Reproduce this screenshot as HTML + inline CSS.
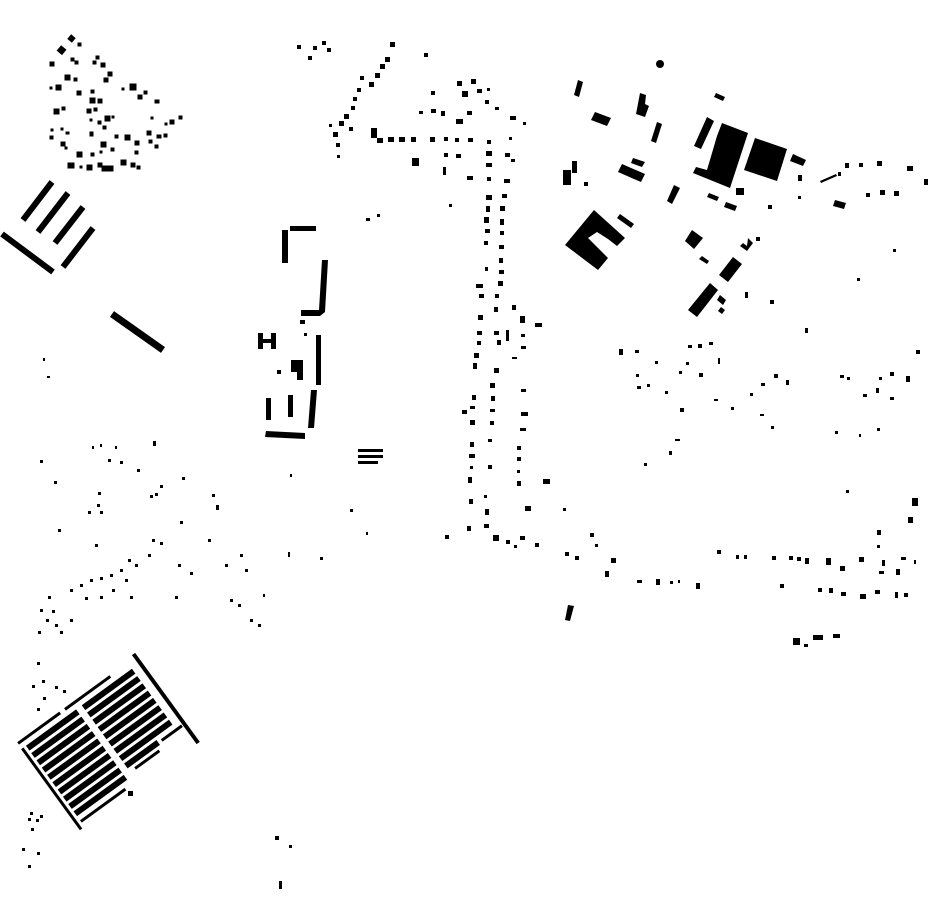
<!DOCTYPE html>
<html><head><meta charset="utf-8"><style>html,body{margin:0;padding:0;background:#fff}svg{display:block}</style></head>
<body>
<svg width="930" height="924" viewBox="0 0 930 924" xmlns="http://www.w3.org/2000/svg">
<g fill="#000" stroke="none">
<g transform="translate(-2.5,-2.5)">
<rect x="71" y="38" width="6" height="6" transform="rotate(40 74 41)"/><rect x="61" y="49" width="7" height="7" transform="rotate(40 64 52)"/><rect x="80" y="45" width="4" height="4"/><rect x="52" y="64" width="5" height="5"/><rect x="73" y="60" width="4" height="4"/><rect x="77" y="63" width="4" height="4"/><rect x="98" y="58" width="4" height="4"/><rect x="95" y="63" width="4" height="4"/><rect x="103" y="65" width="5" height="5"/><rect x="67" y="77" width="6" height="6"/><rect x="76" y="80" width="4" height="4"/><rect x="110" y="74" width="5" height="5"/><rect x="106" y="80" width="5" height="5"/><rect x="58" y="87" width="6" height="6"/><rect x="52" y="89" width="3" height="3"/><rect x="79" y="93" width="5" height="5"/><rect x="93" y="92" width="4" height="4"/><rect x="132" y="86" width="7" height="7"/><rect x="124" y="90" width="3" height="3"/><rect x="140" y="97" width="5" height="5"/><rect x="146" y="93" width="4" height="4"/><rect x="157" y="102" width="5" height="4"/><rect x="92" y="100" width="6" height="6"/><rect x="100" y="101" width="5" height="5"/><rect x="56" y="111" width="6" height="6"/><rect x="64" y="109" width="4" height="4"/><rect x="89" y="111" width="5" height="5"/><rect x="96" y="110" width="4" height="4"/><rect x="107" y="118" width="6" height="6"/><rect x="114" y="118" width="3" height="3"/><rect x="92" y="121" width="3" height="3"/><rect x="100" y="123" width="4" height="4"/><rect x="105" y="128" width="4" height="4"/><rect x="153" y="119" width="3" height="3"/><rect x="172" y="122" width="5" height="5"/><rect x="181" y="118" width="4" height="4"/><rect x="167" y="125" width="3" height="3"/><rect x="53" y="131" width="3" height="3"/><rect x="63" y="130" width="3" height="3"/><rect x="68" y="134" width="4" height="3"/><rect x="92" y="134" width="4" height="5"/><rect x="52" y="138" width="4" height="4"/><rect x="117" y="137" width="4" height="4"/><rect x="127" y="137" width="6" height="6"/><rect x="149" y="133" width="5" height="5"/><rect x="159" y="137" width="5" height="4"/><rect x="166" y="136" width="4" height="4"/><rect x="63" y="144" width="5" height="5"/><rect x="103" y="144" width="6" height="6"/><rect x="137" y="143" width="5" height="5"/><rect x="151" y="142" width="4" height="4"/><rect x="157" y="147" width="4" height="4"/><rect x="67" y="149" width="3" height="3"/><rect x="113" y="150" width="4" height="4"/><rect x="79" y="154" width="6" height="6"/><rect x="93" y="155" width="4" height="4"/><rect x="102" y="153" width="3" height="3"/><rect x="137" y="153" width="4" height="4"/><rect x="70" y="165" width="7" height="6"/><rect x="82" y="168" width="3" height="3"/><rect x="89" y="167" width="6" height="6"/><rect x="100" y="165" width="5" height="5"/><rect x="104" y="168" width="12" height="6"/><rect x="123" y="162" width="6" height="6"/><rect x="133" y="165" width="5" height="5"/><rect x="139" y="168" width="4" height="4"/>
</g>
</g>
<g stroke="#000" stroke-linecap="butt" fill="none">
<line x1="52" y1="182" x2="23" y2="220" stroke-width="6"/>
<line x1="68" y1="193" x2="38" y2="232" stroke-width="6"/>
<line x1="83" y1="207" x2="55" y2="243" stroke-width="6"/>
<line x1="93" y1="228" x2="63" y2="267" stroke-width="6"/>
<line x1="2" y1="234" x2="53" y2="272" stroke-width="6"/>
<line x1="112" y1="314" x2="163" y2="350" stroke-width="7"/>
</g>
<g fill="#000">
<rect x="290" y="226" width="26" height="5"/>
<rect x="282" y="230" width="6" height="33"/>
<polygon points="322,260 328,260 325,312 320,316 301,316 301,310 319,310"/>
<rect x="316" y="335" width="5" height="50"/>
<rect x="300" y="320" width="5" height="4"/>
<rect x="258" y="333" width="5" height="16"/><rect x="271" y="333" width="5" height="16"/><rect x="258" y="339" width="18" height="4"/>
<polygon points="291,360 303,360 303,380 297,380 297,372 291,372"/>
<rect x="277" y="370" width="4" height="4"/><rect x="304" y="333" width="3" height="3"/>
<rect x="266" y="398" width="5" height="22"/><rect x="288" y="395" width="5" height="22"/>
<polygon points="311,390 317,390 314,428 308,428"/>
<polygon points="266,431 305,433 305,439 265,437"/>
<rect x="358" y="449" width="25" height="3"/><rect x="358" y="455" width="25" height="3"/><rect x="358" y="461" width="20" height="3"/>
<rect x="366" y="218" width="4" height="3"/><rect x="377" y="214" width="3" height="3"/>
</g>
<g transform="translate(106,742) rotate(-36)" fill="#000">
<rect x="-72" y="-52" width="52" height="3"/>
<rect x="-14" y="-52" width="56" height="3"/>
<rect x="72" y="-55" width="4" height="110"/>
<rect x="-73" y="-44" width="3" height="100"/>
<rect x="-67" y="-44" width="62" height="6"/><rect x="2" y="-44" width="62" height="6"/>
<rect x="-67" y="-35" width="62" height="6"/><rect x="2" y="-35" width="62" height="6"/>
<rect x="-67" y="-26" width="62" height="6"/><rect x="2" y="-26" width="62" height="6"/>
<rect x="-67" y="-17" width="62" height="6"/><rect x="2" y="-17" width="62" height="6"/>
<rect x="-67" y="-8" width="62" height="6"/><rect x="2" y="-8" width="62" height="6"/>
<rect x="-67" y="1" width="62" height="6"/><rect x="2" y="1" width="62" height="6"/>
<rect x="-67" y="10" width="62" height="6"/><rect x="2" y="10" width="62" height="6"/>
<rect x="-67" y="19" width="62" height="6"/><rect x="2" y="19" width="62" height="6"/>
<rect x="-67" y="28" width="62" height="6"/><rect x="2" y="28" width="40" height="6"/>
<rect x="-67" y="37" width="62" height="6"/><rect x="8" y="37" width="30" height="3"/>
<rect x="-67" y="48" width="55" height="3"/>
<rect x="46" y="30" width="25" height="3"/>
</g>
<g fill="#000">
<rect x="128" y="791" width="5" height="5"/>
<rect x="37" y="662" width="3" height="3"/><rect x="42" y="680" width="3" height="3"/><rect x="32" y="685" width="3" height="3"/><rect x="55" y="686" width="3" height="3"/><rect x="63" y="690" width="3" height="3"/><rect x="43" y="697" width="3" height="3"/><rect x="37" y="708" width="3" height="3"/>
<rect x="30" y="812" width="3" height="3"/><rect x="28" y="818" width="3" height="3"/><rect x="40" y="815" width="3" height="3"/><rect x="36" y="819" width="3" height="3"/><rect x="31" y="828" width="3" height="3"/><rect x="22" y="848" width="3" height="3"/><rect x="28" y="865" width="3" height="3"/><rect x="37" y="852" width="3" height="3"/>
<rect x="275" y="836" width="4" height="4"/><rect x="289" y="845" width="3" height="3"/><rect x="279" y="881" width="3" height="8"/>
<rect x="43" y="358" width="2" height="3"/><rect x="47" y="376" width="3" height="2"/><rect x="40" y="460" width="3" height="3"/><rect x="54" y="481" width="3" height="3"/><rect x="92" y="446" width="2" height="3"/><rect x="100" y="444" width="2" height="3"/><rect x="108" y="459" width="3" height="3"/><rect x="120" y="461" width="3" height="3"/><rect x="115" y="446" width="2" height="3"/><rect x="153" y="441" width="3" height="5"/><rect x="137" y="469" width="3" height="3"/><rect x="160" y="485" width="3" height="3"/><rect x="155" y="493" width="3" height="3"/><rect x="182" y="477" width="3" height="3"/><rect x="98" y="492" width="3" height="3"/><rect x="97" y="504" width="3" height="3"/><rect x="88" y="511" width="3" height="3"/><rect x="100" y="511" width="3" height="3"/><rect x="212" y="494" width="3" height="3"/><rect x="216" y="505" width="3" height="5"/><rect x="58" y="529" width="3" height="3"/><rect x="95" y="544" width="3" height="3"/><rect x="180" y="521" width="3" height="3"/><rect x="152" y="539" width="3" height="3"/><rect x="160" y="542" width="3" height="3"/><rect x="148" y="554" width="3" height="3"/><rect x="128" y="559" width="3" height="3"/><rect x="135" y="564" width="3" height="3"/><rect x="120" y="569" width="3" height="3"/><rect x="110" y="574" width="3" height="3"/><rect x="100" y="577" width="3" height="3"/><rect x="90" y="579" width="3" height="3"/><rect x="80" y="584" width="3" height="3"/><rect x="70" y="589" width="3" height="3"/><rect x="125" y="579" width="3" height="3"/><rect x="112" y="589" width="3" height="3"/><rect x="100" y="596" width="3" height="3"/><rect x="85" y="597" width="3" height="3"/><rect x="130" y="596" width="3" height="3"/><rect x="48" y="596" width="3" height="3"/><rect x="40" y="609" width="3" height="3"/><rect x="46" y="619" width="3" height="3"/><rect x="55" y="624" width="3" height="3"/><rect x="38" y="631" width="3" height="3"/><rect x="60" y="631" width="3" height="3"/><rect x="70" y="619" width="3" height="3"/><rect x="52" y="610" width="3" height="3"/><rect x="178" y="564" width="3" height="3"/><rect x="190" y="572" width="3" height="3"/><rect x="175" y="596" width="3" height="3"/><rect x="208" y="539" width="3" height="3"/><rect x="240" y="554" width="3" height="3"/><rect x="245" y="569" width="3" height="3"/><rect x="225" y="564" width="3" height="3"/><rect x="230" y="599" width="3" height="3"/><rect x="238" y="604" width="3" height="3"/><rect x="250" y="619" width="3" height="3"/><rect x="258" y="624" width="3" height="3"/><rect x="263" y="594" width="2" height="3"/><rect x="288" y="552" width="2" height="5"/><rect x="320" y="557" width="3" height="3"/><rect x="350" y="509" width="3" height="3"/><rect x="290" y="474" width="2" height="3"/><rect x="366" y="532" width="2" height="3"/><rect x="150" y="495" width="3" height="3"/>
<rect x="297" y="45" width="4" height="4"/><rect x="308" y="56" width="4" height="4"/><rect x="313" y="46" width="4" height="4"/><rect x="322" y="41" width="4" height="4"/><rect x="327" y="48" width="4" height="4"/><rect x="390" y="42" width="5" height="5"/><rect x="385" y="57" width="5" height="5"/><rect x="380" y="64" width="5" height="5"/><rect x="375" y="73" width="5" height="5"/><rect x="369" y="82" width="5" height="5"/><rect x="360" y="76" width="4" height="4"/><rect x="357" y="88" width="4" height="4"/><rect x="353" y="97" width="4" height="4"/><rect x="351" y="106" width="4" height="4"/><rect x="344" y="114" width="5" height="5"/><rect x="339" y="121" width="5" height="5"/><rect x="349" y="127" width="4" height="4"/><rect x="333" y="132" width="5" height="5"/><rect x="336" y="143" width="4" height="4"/><rect x="337" y="155" width="3" height="3"/><rect x="329" y="124" width="3" height="3"/><rect x="371" y="128" width="6" height="10"/><rect x="377" y="138" width="6" height="5"/><rect x="388" y="137" width="6" height="5"/><rect x="399" y="137" width="6" height="5"/><rect x="411" y="137" width="5" height="5"/><rect x="412" y="158" width="7" height="8"/><rect x="424" y="53" width="4" height="4"/>
<g transform="translate(-2,-2)">
<rect x="459" y="83" width="5" height="5"/><rect x="473" y="81" width="5" height="5"/><rect x="464" y="93" width="6" height="6"/><rect x="479" y="91" width="5" height="4"/><rect x="489" y="90" width="3" height="3"/><rect x="487" y="102" width="4" height="4"/><rect x="497" y="109" width="4" height="3"/><rect x="512" y="118" width="6" height="4"/><rect x="525" y="124" width="3" height="3"/><rect x="433" y="93" width="4" height="4"/><rect x="433" y="111" width="5" height="4"/><rect x="443" y="113" width="4" height="5"/><rect x="421" y="113" width="4" height="3"/><rect x="458" y="121" width="7" height="5"/><rect x="469" y="113" width="5" height="4"/><rect x="432" y="139" width="5" height="5"/><rect x="446" y="139" width="4" height="4"/><rect x="457" y="140" width="4" height="4"/><rect x="470" y="140" width="5" height="4"/><rect x="489" y="142" width="4" height="4"/><rect x="511" y="139" width="3" height="3"/><rect x="446" y="155" width="4" height="4"/><rect x="458" y="156" width="5" height="4"/><rect x="488" y="153" width="6" height="5"/><rect x="488" y="165" width="6" height="4"/><rect x="507" y="155" width="5" height="4"/><rect x="513" y="161" width="4" height="3"/><rect x="445" y="169" width="3" height="8"/><rect x="469" y="178" width="6" height="4"/><rect x="489" y="179" width="4" height="4"/><rect x="506" y="181" width="6" height="4"/><rect x="451" y="206" width="3" height="3"/><rect x="488" y="197" width="6" height="5"/><rect x="504" y="196" width="5" height="4"/><rect x="488" y="208" width="4" height="6"/><rect x="502" y="208" width="5" height="5"/><rect x="486" y="219" width="5" height="6"/><rect x="502" y="221" width="4" height="6"/><rect x="487" y="231" width="5" height="4"/><rect x="502" y="233" width="4" height="4"/><rect x="486" y="243" width="4" height="4"/><rect x="501" y="247" width="5" height="4"/><rect x="501" y="260" width="4" height="5"/><rect x="487" y="269" width="3" height="4"/><rect x="501" y="272" width="5" height="4"/><rect x="478" y="286" width="7" height="4"/><rect x="500" y="283" width="5" height="5"/><rect x="481" y="296" width="5" height="4"/><rect x="497" y="296" width="4" height="4"/><rect x="496" y="309" width="4" height="5"/><rect x="514" y="307" width="4" height="5"/><rect x="480" y="317" width="5" height="5"/><rect x="522" y="318" width="5" height="7"/><rect x="537" y="325" width="7" height="4"/><rect x="479" y="333" width="5" height="4"/><rect x="496" y="333" width="5" height="4"/><rect x="508" y="332" width="3" height="11"/><rect x="523" y="336" width="4" height="3"/><rect x="479" y="343" width="4" height="4"/><rect x="499" y="342" width="4" height="5"/><rect x="523" y="348" width="5" height="3"/><rect x="476" y="355" width="5" height="5"/><rect x="514" y="359" width="5" height="2"/><rect x="475" y="365" width="4" height="6"/><rect x="496" y="370" width="5" height="5"/><rect x="492" y="385" width="5" height="5"/><rect x="523" y="391" width="5" height="3"/><rect x="474" y="397" width="4" height="5"/><rect x="493" y="398" width="4" height="5"/><rect x="464" y="412" width="5" height="4"/><rect x="472" y="408" width="5" height="3"/><rect x="492" y="411" width="5" height="3"/><rect x="523" y="414" width="7" height="4"/><rect x="472" y="422" width="5" height="5"/><rect x="492" y="423" width="4" height="4"/><rect x="522" y="430" width="6" height="3"/><rect x="472" y="444" width="4" height="5"/><rect x="490" y="441" width="4" height="3"/><rect x="519" y="448" width="4" height="4"/><rect x="471" y="456" width="6" height="4"/><rect x="519" y="459" width="4" height="4"/><rect x="472" y="468" width="3" height="3"/><rect x="490" y="467" width="4" height="4"/><rect x="519" y="472" width="3" height="3"/><rect x="470" y="479" width="4" height="6"/><rect x="519" y="483" width="4" height="5"/><rect x="545" y="481" width="7" height="5"/><rect x="471" y="501" width="4" height="5"/><rect x="486" y="497" width="3" height="3"/><rect x="487" y="511" width="4" height="6"/><rect x="527" y="508" width="6" height="5"/><rect x="469" y="528" width="4" height="5"/><rect x="486" y="526" width="5" height="4"/><rect x="447" y="537" width="4" height="4"/><rect x="495" y="537" width="6" height="6"/><rect x="508" y="542" width="4" height="4"/><rect x="516" y="547" width="3" height="3"/><rect x="522" y="538" width="5" height="4"/><rect x="537" y="545" width="4" height="4"/>
</g>
<circle cx="660" cy="64" r="4"/>
<polygon points="574,95 578,80 583,82 579,97"/>
<polygon points="595,112 611,118 607,126 591,120"/>
<polygon points="640,93 646,95 645,104 649,106 645,117 636,114"/>
<polygon points="657,122 662,124 656,143 651,141"/>
<polygon points="716,93 725,97 723,101 714,97"/>
<polygon points="707,117 714,121 701,149 694,146"/>
<polygon points="722,123 748,133 730,188 693,173 696,167 707,170 717,136"/>
<polygon points="755,138 787,149 777,181 744,170"/>
<polygon points="793,154 806,160 803,166 790,161"/>
<rect x="736" y="188" width="8" height="7"/>
<polygon points="709,193 719,197 717,201 707,197"/>
<polygon points="726,202 737,206 735,211 724,207"/>
<rect x="768" y="205" width="4" height="4"/>
<rect x="798" y="175" width="4" height="6"/>
<rect x="798" y="196" width="3" height="3"/>
<rect x="563" y="170" width="8" height="15"/><rect x="572" y="161" width="5" height="12"/>
<rect x="584" y="182" width="4" height="4"/>
<polygon points="622,164 645,174 641,182 618,172"/>
<polygon points="633,158 645,162 642,167 631,163"/>
<polygon points="674,185 680,188 672,204 667,201"/>
<polygon points="594,210 625,238 617,246 608,239 597,232 588,238 608,258 598,270 565,245"/>
<polygon points="620,214 634,224 631,228 617,218"/>
<polygon points="692,230 703,238 694,249 685,241"/>
<polygon points="702,256 709,261 707,264 699,259"/>
<polygon points="733,257 742,264 728,282 719,275"/>
<polygon points="710,283 718,290 697,317 688,310"/>
<polygon points="720,295 726,300 723,305 717,300"/>
<polygon points="721,307 725,310 722,314 718,311"/>
<polygon points="748,238 753,243 747,251 740,246 743,243 747,246"/>
<rect x="756" y="237" width="4" height="4"/>
<rect x="745" y="292" width="3" height="6"/><rect x="770" y="300" width="4" height="4"/>
<polygon points="820,181 836,174 837,176 821,183"/>
<rect x="838" y="172" width="3" height="4"/><rect x="845" y="163" width="4" height="5"/><rect x="859" y="163" width="4" height="4"/><rect x="877" y="161" width="5" height="5"/><rect x="907" y="166" width="6" height="5"/><rect x="924" y="179" width="4" height="6"/>
<polygon points="835,200 846,203 844,209 833,206"/>
<rect x="866" y="193" width="4" height="4"/><rect x="880" y="190" width="5" height="5"/><rect x="894" y="191" width="5" height="5"/><rect x="893" y="249" width="3" height="3"/><rect x="857" y="278" width="3" height="3"/><rect x="805" y="330" width="3" height="3"/>
<g transform="translate(-2,-2)">
<rect x="621" y="351" width="4" height="6"/><rect x="637" y="352" width="4" height="3"/><rect x="690" y="347" width="4" height="3"/><rect x="700" y="346" width="4" height="4"/><rect x="711" y="344" width="4" height="3"/><rect x="657" y="363" width="3" height="3"/><rect x="688" y="364" width="3" height="3"/><rect x="720" y="360" width="2" height="6"/><rect x="638" y="376" width="3" height="3"/><rect x="681" y="373" width="3" height="3"/><rect x="701" y="375" width="4" height="4"/><rect x="639" y="388" width="4" height="3"/><rect x="649" y="386" width="3" height="3"/><rect x="667" y="393" width="3" height="3"/><rect x="682" y="410" width="4" height="4"/><rect x="716" y="401" width="4" height="2"/><rect x="733" y="409" width="3" height="3"/><rect x="752" y="395" width="3" height="3"/><rect x="763" y="385" width="4" height="3"/><rect x="776" y="376" width="4" height="4"/><rect x="788" y="382" width="3" height="5"/><rect x="762" y="416" width="4" height="2"/><rect x="773" y="428" width="3" height="3"/><rect x="807" y="330" width="3" height="3"/><rect x="918" y="352" width="4" height="4"/><rect x="842" y="377" width="4" height="3"/><rect x="849" y="379" width="3" height="3"/><rect x="881" y="379" width="3" height="3"/><rect x="892" y="374" width="4" height="4"/><rect x="908" y="378" width="4" height="6"/><rect x="865" y="396" width="4" height="3"/><rect x="878" y="390" width="3" height="5"/><rect x="892" y="399" width="4" height="3"/><rect x="837" y="433" width="3" height="3"/><rect x="861" y="436" width="2" height="3"/><rect x="879" y="430" width="3" height="3"/><rect x="677" y="441" width="5" height="2"/><rect x="671" y="453" width="3" height="4"/><rect x="646" y="465" width="3" height="3"/><rect x="848" y="492" width="3" height="3"/><rect x="914" y="500" width="6" height="8"/><rect x="910" y="519" width="5" height="6"/><rect x="879" y="532" width="4" height="5"/><rect x="879" y="547" width="3" height="3"/><rect x="613" y="560" width="5" height="5"/><rect x="607" y="573" width="4" height="6"/><rect x="719" y="552" width="4" height="4"/><rect x="738" y="557" width="3" height="4"/><rect x="746" y="557" width="3" height="4"/><rect x="774" y="558" width="4" height="4"/><rect x="791" y="558" width="4" height="4"/><rect x="799" y="559" width="4" height="4"/><rect x="807" y="560" width="4" height="6"/><rect x="828" y="560" width="5" height="7"/><rect x="842" y="568" width="5" height="5"/><rect x="861" y="559" width="5" height="5"/><rect x="884" y="562" width="3" height="6"/><rect x="903" y="559" width="5" height="3"/><rect x="916" y="562" width="2" height="4"/><rect x="881" y="573" width="5" height="3"/><rect x="898" y="571" width="4" height="6"/><rect x="639" y="582" width="5" height="3"/><rect x="658" y="581" width="4" height="6"/><rect x="672" y="583" width="3" height="3"/><rect x="680" y="582" width="2" height="3"/><rect x="698" y="585" width="4" height="6"/><rect x="782" y="586" width="4" height="4"/><rect x="820" y="590" width="4" height="4"/><rect x="831" y="590" width="4" height="5"/><rect x="843" y="594" width="5" height="4"/><rect x="862" y="596" width="6" height="5"/><rect x="877" y="592" width="5" height="4"/><rect x="897" y="594" width="3" height="6"/><rect x="906" y="595" width="4" height="4"/><rect x="795" y="640" width="7" height="7"/><rect x="806" y="646" width="4" height="3"/><rect x="815" y="637" width="10" height="5"/><rect x="835" y="636" width="7" height="4"/>
</g>
<rect x="590" y="533" width="4" height="4"/><rect x="595" y="544" width="3" height="3"/><rect x="565" y="552" width="4" height="4"/><rect x="575" y="556" width="4" height="4"/><rect x="563" y="508" width="3" height="3"/>
<polygon points="568,605 574,606 570,621 565,620"/>
</g>
</svg>
</body></html>
